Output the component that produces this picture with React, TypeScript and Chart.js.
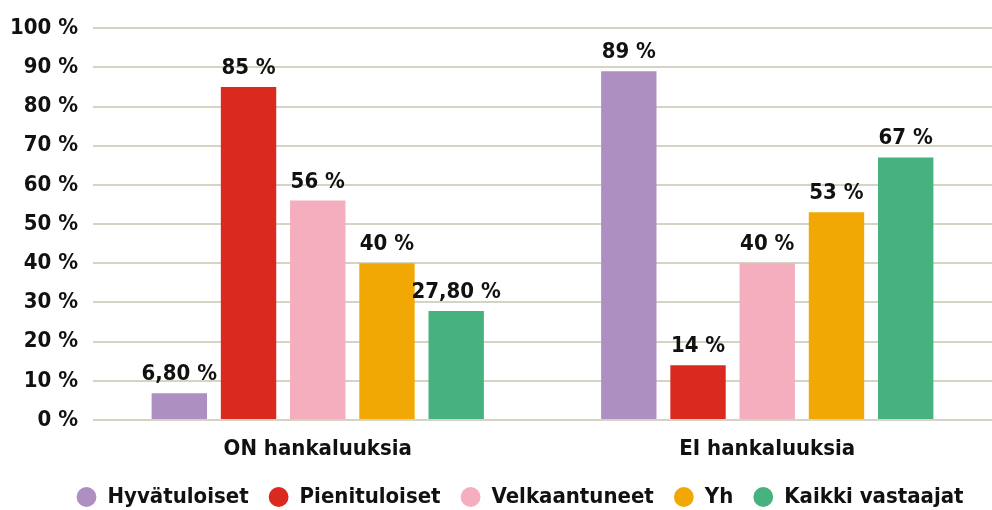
import React, { useEffect, useRef } from "react";
import { Chart, registerables } from "chart.js";

Chart.register(...registerables);

const categories = ["ON hankaluuksia", "EI hankaluuksia"];
const seriesNames = ["Hyvätuloiset", "Pienituloiset", "Velkaantuneet", "Yh", "Kaikki vastaajat"];
const hyvatuloiset = [6.8, 89];
const pienituloiset = [85, 14];
const velkaantuneet = [56, 40];
const yh = [40, 53];
const kaikki = [27.8, 67];
const seriesColors = ["#ae8fc2", "#da2a1f", "#f4aebd", "#f1a805", "#47b17f"];
const yTicks = [0, 10, 20, 30, 40, 50, 60, 70, 80, 90, 100];

const FONT_FAMILY = "'DejaVu Sans Condensed', 'Liberation Sans Narrow', sans-serif";
const FONT_SIZE = 22;
const LEGEND_PAD = 20;
const LEGEND_CENTER_Y = 497;
const LEGEND_SHIFT_X = 24;

const fmt = (v: number) =>
  Number.isInteger(v) ? `${v} %` : `${v.toFixed(2).replace(".", ",")} %`;

const valueLabels = {
  id: "valueLabels",
  afterDatasetsDraw(chart: any) {
    const ctx = chart.ctx;
    ctx.save();
    ctx.font = `bold ${FONT_SIZE}px ${FONT_FAMILY}`;
    ctx.fillStyle = "#111111";
    ctx.textAlign = "center";
    ctx.textBaseline = "alphabetic";
    chart.data.datasets.forEach((ds: any, di: number) => {
      const meta = chart.getDatasetMeta(di);
      meta.data.forEach((el: any, i: number) => {
        ctx.fillText(fmt(ds.data[i]), el.x, el.y - 13);
      });
    });
    ctx.restore();
  },
};

const legendShift = {
  id: "legendShift",
  afterLayout(chart: any) {
    const lg = chart.legend;
    if (!lg) return;
    const newTop = LEGEND_CENTER_Y - LEGEND_PAD - FONT_SIZE / 2;
    const dy = newTop - lg.top;
    lg.top += dy;
    lg.bottom += dy;
    lg.left += LEGEND_SHIFT_X;
    lg.right += LEGEND_SHIFT_X;
  },
};

export default function App() {
  const ref = useRef<HTMLCanvasElement | null>(null);
  useEffect(() => {
    if (!ref.current) return;
    const values = [hyvatuloiset, pienituloiset, velkaantuneet, yh, kaikki];
    const chart = new Chart(ref.current, {
      type: "bar",
      data: {
        labels: categories,
        datasets: seriesNames.map((name, i) => ({
          label: name,
          data: values[i],
          backgroundColor: seriesColors[i],
          borderWidth: 0,
          categoryPercentage: 0.77,
          barPercentage: 0.8,
        })),
      },
      options: {
        animation: false,
        responsive: true,
        maintainAspectRatio: false,
        layout: { padding: { top: 26, right: 0, left: 0, bottom: -20 } },
        plugins: {
          tooltip: { enabled: false },
          legend: {
            position: "bottom",
            labels: {
              usePointStyle: true,
              pointStyle: "circle",
              boxWidth: 20,
              boxHeight: 14,
              padding: LEGEND_PAD,
              color: "#111111",
              font: { family: FONT_FAMILY, size: FONT_SIZE, weight: "bold" },
            },
          },
        },
        scales: {
          x: {
            grid: { display: false, drawTicks: false },
            border: { display: false },
            ticks: {
              padding: 18,
              color: "#111111",
              font: { family: FONT_FAMILY, size: FONT_SIZE, weight: "bold", lineHeight: 1 },
            },
            afterFit: (scale: any) => {
              scale.height = 58;
            },
          },
          y: {
            min: 0,
            max: 100,
            afterBuildTicks: (scale: any) => {
              scale.ticks = yTicks.map((v) => ({ value: v }));
            },
            grid: { color: "#d6d3c4", lineWidth: 2, drawTicks: false },
            border: { display: false },
            ticks: {
              padding: 15,
              color: "#111111",
              font: { family: FONT_FAMILY, size: FONT_SIZE, weight: "bold" },
              callback: (v: any) => `${v} %`,
            },
            afterFit: (scale: any) => {
              scale.width = 93;
            },
          },
        },
      },
      plugins: [valueLabels, legendShift],
    });
    return () => chart.destroy();
  }, []);
  return (
    <div style={{ position: "fixed", left: 0, top: 0, width: 992, height: 510, background: "#ffffff" }}>
      <canvas ref={ref} />
    </div>
  );
}
